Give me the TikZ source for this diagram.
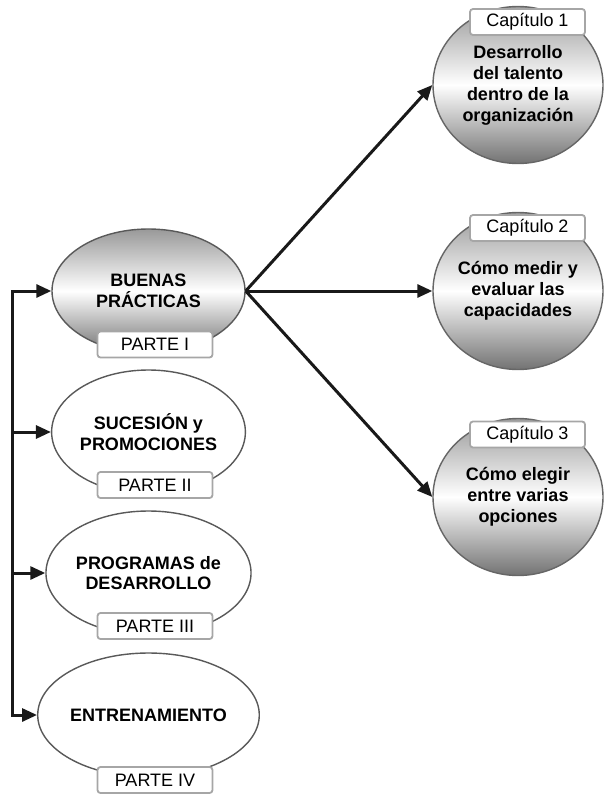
\documentclass[tikz,border=0pt]{standalone}
\usepackage{fontspec}
\setmainfont{Liberation Sans}
\usetikzlibrary{shapes.geometric,arrows.meta}

\begin{document}
\begin{tikzpicture}[x=1pt, y=-1pt,
    parte/.style={ellipse, draw=black!65, line width=1.4pt, fill=white, minimum width=193pt, minimum height=124pt, inner sep=0pt, align=center, font=\fontsize{18}{20.5}\selectfont\bfseries},
    capitulo/.style={ellipse, draw=black!60, line width=1.4pt, minimum width=170pt, minimum height=157pt, inner sep=0pt, align=center, font=\fontsize{18}{21}\selectfont\bfseries},
    sombra/.style={top color=black!40, bottom color=black!55, middle color=white},
    etiqueta/.style={draw=black!35, line width=1.8pt, rounded corners=3pt, fill=white, minimum width=115pt, minimum height=26pt, inner sep=0pt, font=\fontsize{18}{20}\selectfont},
    flecha/.style={-{Triangle[length=15pt,width=13pt]}, line width=3pt, black!90}]
    \useasboundingbox (0,0) rectangle (604,794);

    % 左侧四个部分
    \node[parte, sombra] (p1) at (148.5,291) {BUENAS\\PRÁCTICAS};
    \node[parte] (p2) at (148.5,432) {SUCESIÓN y\\PROMOCIONES};
    \node[parte] (p3) at (148.5,573) {PROGRAMAS de\\DESARROLLO};
    \node[parte] (p4) at (148.5,715) {ENTRENAMIENTO};

    \node[etiqueta] (t1) at (155,344.5) {PARTE I};
    \node[etiqueta] (t2) at (155,485) {PARTE II};
    \node[etiqueta] (t3) at (155,626) {PARTE III};
    \node[etiqueta] (t4) at (155,780) {PARTE IV};

    % 右侧三个章节
    \node[capitulo, sombra] (c1) at (518,85) {Desarrollo\\del talento\\dentro de la\\organización};
    \node[capitulo, sombra] (c2) at (518,291) {Cómo medir y\\evaluar las\\capacidades};
    \node[capitulo, sombra] (c3) at (518,497) {Cómo elegir\\entre varias\\opciones};

    \node[etiqueta] (k1) at (527.5,22) {Capítulo 1};
    \node[etiqueta] (k2) at (527.5,228) {Capítulo 2};
    \node[etiqueta] (k3) at (527.5,434.5) {Capítulo 3};

    % 左侧总线
    \coordinate (bus) at (12,0);
    \draw[line width=3pt, black!90, line cap=rect] (p1.west -| bus) -- (p4.west -| bus);
    \foreach \i in {1,...,4}
        \draw[flecha] (p\i.west -| bus) -- (p\i.west);

    % 到各章节
    \foreach \i in {1,2,3}
        \draw[flecha] (p1.east) -- (c\i.west);
\end{tikzpicture}
\end{document}
